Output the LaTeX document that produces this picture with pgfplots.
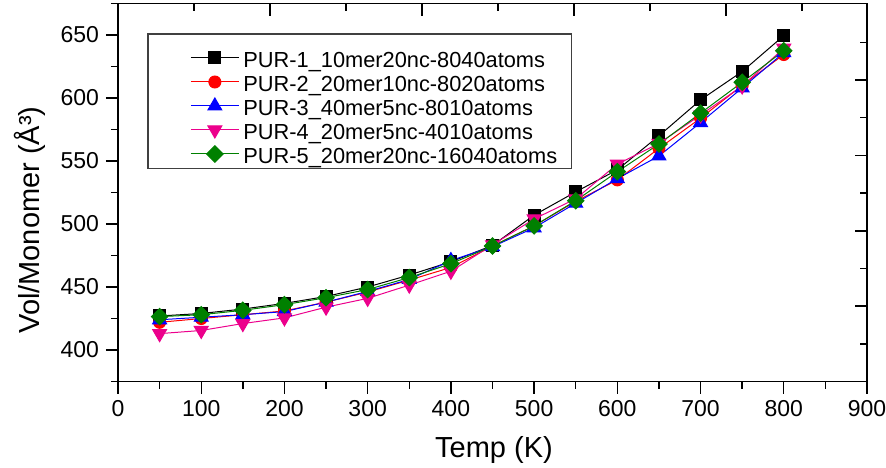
\documentclass[border=0pt]{standalone}
\usepackage{fontspec}
\setmainfont{Liberation Sans}
\usepackage{pgfplots}
\pgfplotsset{compat=1.18}
\usetikzlibrary{calc}
\definecolor{pgreen}{RGB}{0,128,0}
\begin{document}
\begin{tikzpicture}
\begin{axis}[
  scale only axis, width=374.5pt, height=189pt,
  xmin=0, xmax=900, ymin=375, ymax=675,
  xtick={0,100,...,900}, minor xtick={50,150,...,850},
  ytick={400,450,...,650}, minor ytick={375,425,...,675},
  xtick pos=bottom, ytick pos=left, tick align=outside,
  major tick length=6pt, minor tick length=3.5pt,
  axis line style={line width=0.8pt},
  every tick/.style={black, line width=0.7pt},
  tick label style={font=\fontsize{11.5}{13}\selectfont},
  /pgf/number format/assume math mode=true,
  xlabel={Temp (K)}, ylabel={Vol/Monomer (Å³)},
  label style={font=\fontsize{14.5}{16}\selectfont},
  xlabel style={at={(axis description cs:0.502,0)}, anchor=center, yshift=-34.25pt},
  ylabel style={at={(axis description cs:-0.1175,0.427)}, anchor=center},
  legend style={at={(axis description cs:0.04,0.8966)}, anchor=north west, name=leg,
    draw=none, fill=none, inner xsep=5pt, inner ysep=1.5pt,
    font=\fontsize{10.9}{12}\selectfont,
    nodes={text height=10.5pt, text depth=0.5pt, inner ysep=0.5pt}},
  legend cell align=left,
  legend image code/.code={\path (0pt,0pt); \draw[#1,mark=none] (16pt,0pt) -- (40pt,0pt); \draw[#1,only marks] plot coordinates {(28pt,0pt)};},
]
\addplot[black, line width=0.5pt, mark=square*, mark size=3pt] coordinates {
(50,427) (100,429) (150,432.5) (200,437) (250,442.5) (300,450) (350,459.5) (400,470)
(450,483) (500,507) (550,525.5) (600,543) (650,570) (700,598.5) (750,621) (800,649.5)};
\addlegendentry{PUR-1\_10mer20nc-8040atoms}
\addplot[red, line width=0.5pt, mark=*, mark size=3pt] coordinates {
(50,422) (100,425) (150,428) (200,431) (250,438) (300,446) (350,455.5) (400,465.5)
(450,482.5) (500,498.5) (550,518) (600,535) (650,560) (700,584) (750,610) (800,634.5)};
\addlegendentry{PUR-2\_20mer10nc-8020atoms}
\addplot[blue, line width=0.5pt, mark=triangle*, mark size=4pt] coordinates {
(50,424) (100,426) (150,428) (200,430.5) (250,438) (300,446.5) (350,456) (400,471)
(450,482) (500,497) (550,516.5) (600,536) (650,554) (700,580.5) (750,608) (800,636)};
\addlegendentry{PUR-3\_40mer5nc-8010atoms}
\addplot[magenta, line width=0.5pt, mark=triangle*, mark size=4pt, mark options={rotate=180}] coordinates {
(50,413) (100,415.5) (150,421) (200,425.5) (250,434) (300,441) (350,451.5) (400,462.5)
(450,483.5) (500,504) (550,520) (600,547.5) (650,564) (700,586.5) (750,609.5) (800,639.5)};
\addlegendentry{PUR-4\_20mer5nc-4010atoms}
\addplot[pgreen, line width=0.5pt, mark=square*, mark size=2.9pt, mark options={rotate=45}] coordinates {
(50,426.5) (100,428) (150,431.5) (200,436) (250,441.5) (300,448) (350,457.5) (400,468.5)
(450,482.5) (500,498.5) (550,518.5) (600,541.5) (650,563.5) (700,588) (750,612.5) (800,637.5)};
\addlegendentry{PUR-5\_20mer20nc-16040atoms}
\end{axis}
\draw[black!75, line width=0.6pt] ($(leg.north west)+(0,4.25pt)$) rectangle ($(leg.south east)+(0,0.25pt)$);
\begin{axis}[
  scale only axis, width=374.5pt, height=189pt,
  xmin=0, xmax=900, ymin=375, ymax=675,
  axis line style={draw=none},
  xtick pos=top, ytick pos=right, tick align=inside,
  xtick={182.6,365.2,547.8,730.4}, minor xtick={91.3,273.9,456.5,639.1,821.7},
  ytick={434.8,494.6,554.4,614.2}, minor ytick={404.9,464.7,524.5,584.3,644.1},
  xticklabels={}, yticklabels={},
  major tick length=6pt, minor tick length=3.5pt,
  every tick/.style={black, line width=0.7pt},
]
\end{axis}
\pgfresetboundingbox
\path[use as bounding box] ($(current axis.south west)+(-59pt,-42.75pt)$) rectangle ($(current axis.south west)+(384pt,190.75pt)$);
\end{tikzpicture}
\end{document}
